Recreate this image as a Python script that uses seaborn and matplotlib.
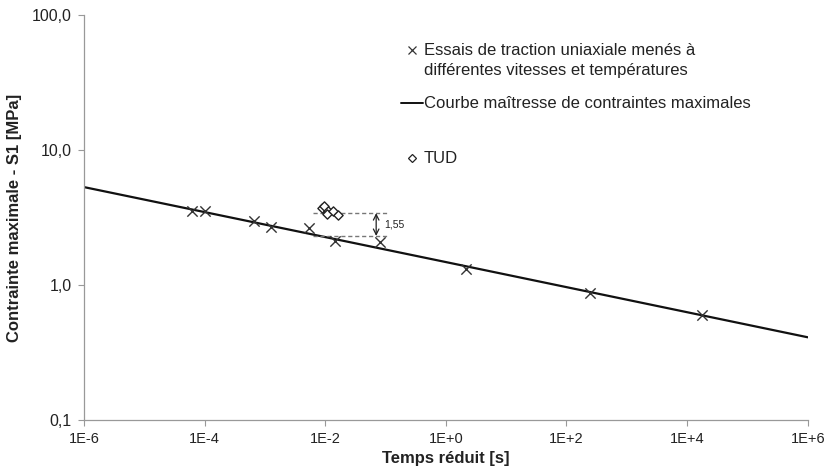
import numpy as np
import pandas as pd
import matplotlib
matplotlib.use("Agg")
import matplotlib.pyplot as plt
import seaborn as sns
from matplotlib.ticker import FixedLocator, FuncFormatter, NullLocator

# essais de traction (croix)
temps_essais = [6.2e-5, 1.0e-4, 6.6e-4, 1.26e-3, 5.4e-3, 1.45e-2, 8.1e-2, 2.2e0, 2.5e2, 1.8e4]
s1_essais = [3.53, 3.53, 2.98, 2.69, 2.64, 2.12, 2.08, 1.31, 0.873, 0.60]

# TUD (losanges)
temps_tud = [8.8e-3, 9.5e-3, 1.11e-2, 1.07e-2, 1.34e-2, 1.62e-2]
s1_tud = [3.72, 3.85, 3.53, 3.36, 3.53, 3.30]

# courbe maitresse
temps_courbe = [1e-6, 1e0, 1e6]
s1_courbe = [5.32, 1.48, 0.41]

# ecart 1,55
ecart_haut = 3.41
ecart_bas = 2.31
ecart_x = [6.3e-3, 1.1e-1]
ecart_fleche = 7.0e-2

sns.set_style("white")
plt.rcParams["font.family"] = ["Liberation Sans", "DejaVu Sans"]

fig = plt.figure(figsize=(8.31, 4.74), dpi=100)
ax = fig.add_axes([0.101, 0.114, 0.871, 0.854])

courbe = pd.DataFrame({"t": temps_courbe, "s": s1_courbe})
sns.lineplot(data=courbe, x="t", y="s", color="#111111", linewidth=1.6, ax=ax)

essais = pd.DataFrame({"t": temps_essais, "s": s1_essais})
sns.scatterplot(data=essais, x="t", y="s", marker="x", s=55, color="#333333",
                linewidth=1.0, ax=ax, zorder=3)

tud = pd.DataFrame({"t": temps_tud, "s": s1_tud})
ax.scatter(tud["t"], tud["s"], marker="D", s=22, facecolors="white",
           edgecolors="#222222", linewidths=1.0, zorder=4)

ax.hlines([ecart_haut, ecart_bas], ecart_x[0], ecart_x[1], colors="#777777",
          linestyles=(0, (3, 2)), linewidth=1.0)
ax.annotate("", xy=(ecart_fleche, ecart_bas), xytext=(ecart_fleche, ecart_haut),
            arrowprops=dict(arrowstyle="<->", color="#222222", lw=0.9,
                            shrinkA=0, shrinkB=0))
ax.text(ecart_fleche * 1.35, np.sqrt(ecart_haut * ecart_bas), "1,55",
        fontsize=7.5, va="center", ha="left", color="#222222")

ax.set_xscale("log")
ax.set_yscale("log")
ax.set_xlim(1e-6, 1e6)
ax.set_ylim(0.1, 100)

xt = [1e-6, 1e-4, 1e-2, 1e0, 1e2, 1e4, 1e6]
xl = ["1E-6", "1E-4", "1E-2", "1E+0", "1E+2", "1E+4", "1E+6"]
ax.xaxis.set_major_locator(FixedLocator(xt))
ax.set_xticklabels(xl)
ax.xaxis.set_minor_locator(NullLocator())
yt = [0.1, 1, 10, 100]
ax.yaxis.set_major_locator(FixedLocator(yt))
ax.yaxis.set_major_formatter(FuncFormatter(lambda v, p: f"{v:.1f}".replace(".", ",")))
ax.yaxis.set_minor_locator(NullLocator())

for side in ["top", "right"]:
    ax.spines[side].set_visible(False)
for side in ["left", "bottom"]:
    ax.spines[side].set_color("#999999")
    ax.spines[side].set_linewidth(0.9)
ax.tick_params(axis="both", which="major", direction="out", length=4, width=0.8,
               color="#999999", labelcolor="#222222", pad=5, bottom=True, left=True)
ax.tick_params(axis="x", labelsize=10.5)
ax.tick_params(axis="y", labelsize=11.5)

ax.set_xlabel("Temps réduit [s]", fontsize=12, fontweight="bold", color="#222222", labelpad=3)
ax.set_ylabel("Contrainte maximale - S1 [MPa]", fontsize=12, fontweight="bold",
              color="#222222", labelpad=7)

# legende
tr = ax.transAxes
ax.plot([0.453], [0.9136], marker="x", color="#333333", markersize=6, mew=0.9,
        transform=tr, clip_on=False)
ax.text(0.4696, 0.9136, "Essais de traction uniaxiale menés à", transform=tr,
        fontsize=12, va="center", ha="left", color="#222222")
ax.text(0.4696, 0.8642, "différentes vitesses et températures", transform=tr,
        fontsize=12, va="center", ha="left", color="#222222")
ax.plot([0.438, 0.468], [0.7827, 0.7827], color="#111111", linewidth=1.4, transform=tr)
ax.text(0.4696, 0.7827, "Courbe maîtresse de contraintes maximales", transform=tr,
        fontsize=12, va="center", ha="left", color="#222222")
ax.plot([0.453], [0.647], marker="D", color="#222222", markersize=4, mfc="white", mew=0.9,
        transform=tr, linestyle="none")
ax.text(0.4696, 0.647, "TUD", transform=tr, fontsize=12, va="center", ha="left", color="#222222")

fig.savefig("out.png", dpi=100)
